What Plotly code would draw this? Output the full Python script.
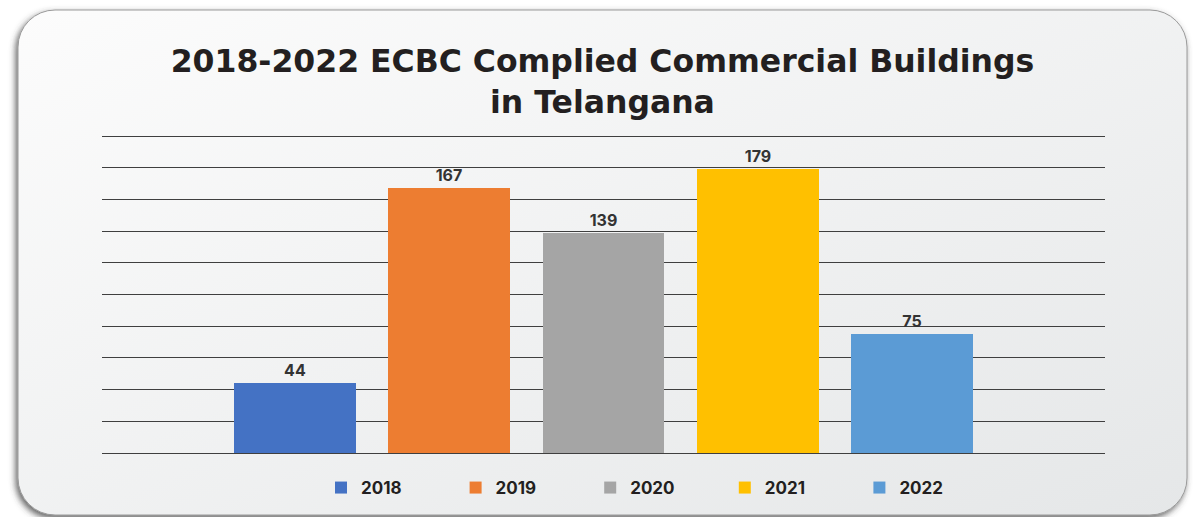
import base64
import plotly.graph_objects as go

# Chart data
years = ["2018", "2019", "2020", "2021", "2022"]
buildings = [44, 167, 139, 179, 75]
colors = ["#4472C4", "#ED7D31", "#A5A5A5", "#FFC000", "#5B9BD5"]

W, H = 1193, 517
FONT = "Inter, 'Open Sans', sans-serif"
TITLE_FONT = "'DejaVu Sans', Inter, sans-serif"

# Rounded card with soft drop shadow and light gradient, used as backdrop
card_svg = f"""<svg xmlns="http://www.w3.org/2000/svg" width="{W}" height="{H}" viewBox="0 0 {W} {H}">
<defs>
<linearGradient id="g" x1="0" y1="0" x2="1" y2="1">
<stop offset="0" stop-color="#fcfcfc"/>
<stop offset="1" stop-color="#e5e7e8"/>
</linearGradient>
<filter id="s" x="-5%" y="-5%" width="110%" height="110%">
<feDropShadow dx="-2" dy="3" stdDeviation="3" flood-color="#3c3c3c" flood-opacity="0.8"/>
</filter>
</defs>
<rect x="18" y="10" width="1169" height="505" rx="37" ry="37" fill="url(#g)" stroke="#9a9a9a" stroke-width="1" filter="url(#s)"/>
</svg>"""
card_uri = "data:image/svg+xml;base64," + base64.b64encode(card_svg.encode()).decode()

fig = go.Figure()
for i, (yr, val, col) in enumerate(zip(years, buildings, colors)):
    fig.add_trace(go.Bar(
        x=[i], y=[val], name=yr, width=0.79,
        marker=dict(color=col, line=dict(width=0)),
        text=[str(val)], textposition="outside",
        textfont=dict(family=FONT, size=16, color="#333333", weight=700),
        cliponaxis=False,
    ))

# Plot area in pixels: x 102..1105, y 136..453 for values 0..200;
# range padded above so the 200 gridline is drawn
Y_TOP = 205
px_per_unit = (453 - 136) / 200
top_px = 453 - Y_TOP * px_per_unit

fig.update_layout(
    width=W, height=H,
    margin=dict(l=0, r=0, t=0, b=0),
    paper_bgcolor="white",
    plot_bgcolor="rgba(0,0,0,0)",
    images=[dict(source=card_uri, xref="paper", yref="paper", x=0, y=1,
                 sizex=1, sizey=1, sizing="stretch", layer="below",
                 xanchor="left", yanchor="top")],
    title=dict(
        text="2018-2022 ECBC Complied Commercial Buildings<br>in Telangana",
        x=0.505, xanchor="center", y=1 - 72 / H, yanchor="middle",
        font=dict(family=TITLE_FONT, size=31.5, color="#231F20", weight=700),
    ),
    xaxis=dict(domain=[102 / W, 1105 / W], range=[-1.25, 5.25],
               showticklabels=False, showgrid=False, zeroline=False,
               showline=False, fixedrange=True),
    yaxis=dict(domain=[(H - 453) / H, (H - top_px) / H], range=[0, Y_TOP],
               tick0=0, dtick=20, showticklabels=False, showgrid=True,
               gridcolor="#3f3f3f", gridwidth=1.3,
               zeroline=True, zerolinecolor="#3f3f3f", zerolinewidth=1.3,
               showline=False, fixedrange=True),
    bargap=0,
    legend=dict(orientation="h", x=321 / W, xanchor="left",
                y=(H - 488) / H, yanchor="middle",
                entrywidthmode="pixels", entrywidth=89.6,
                bgcolor="rgba(0,0,0,0)",
                font=dict(family=FONT, size=17, color="#231F20", weight=700)),
    showlegend=True,
)

fig.write_html("out.html")
